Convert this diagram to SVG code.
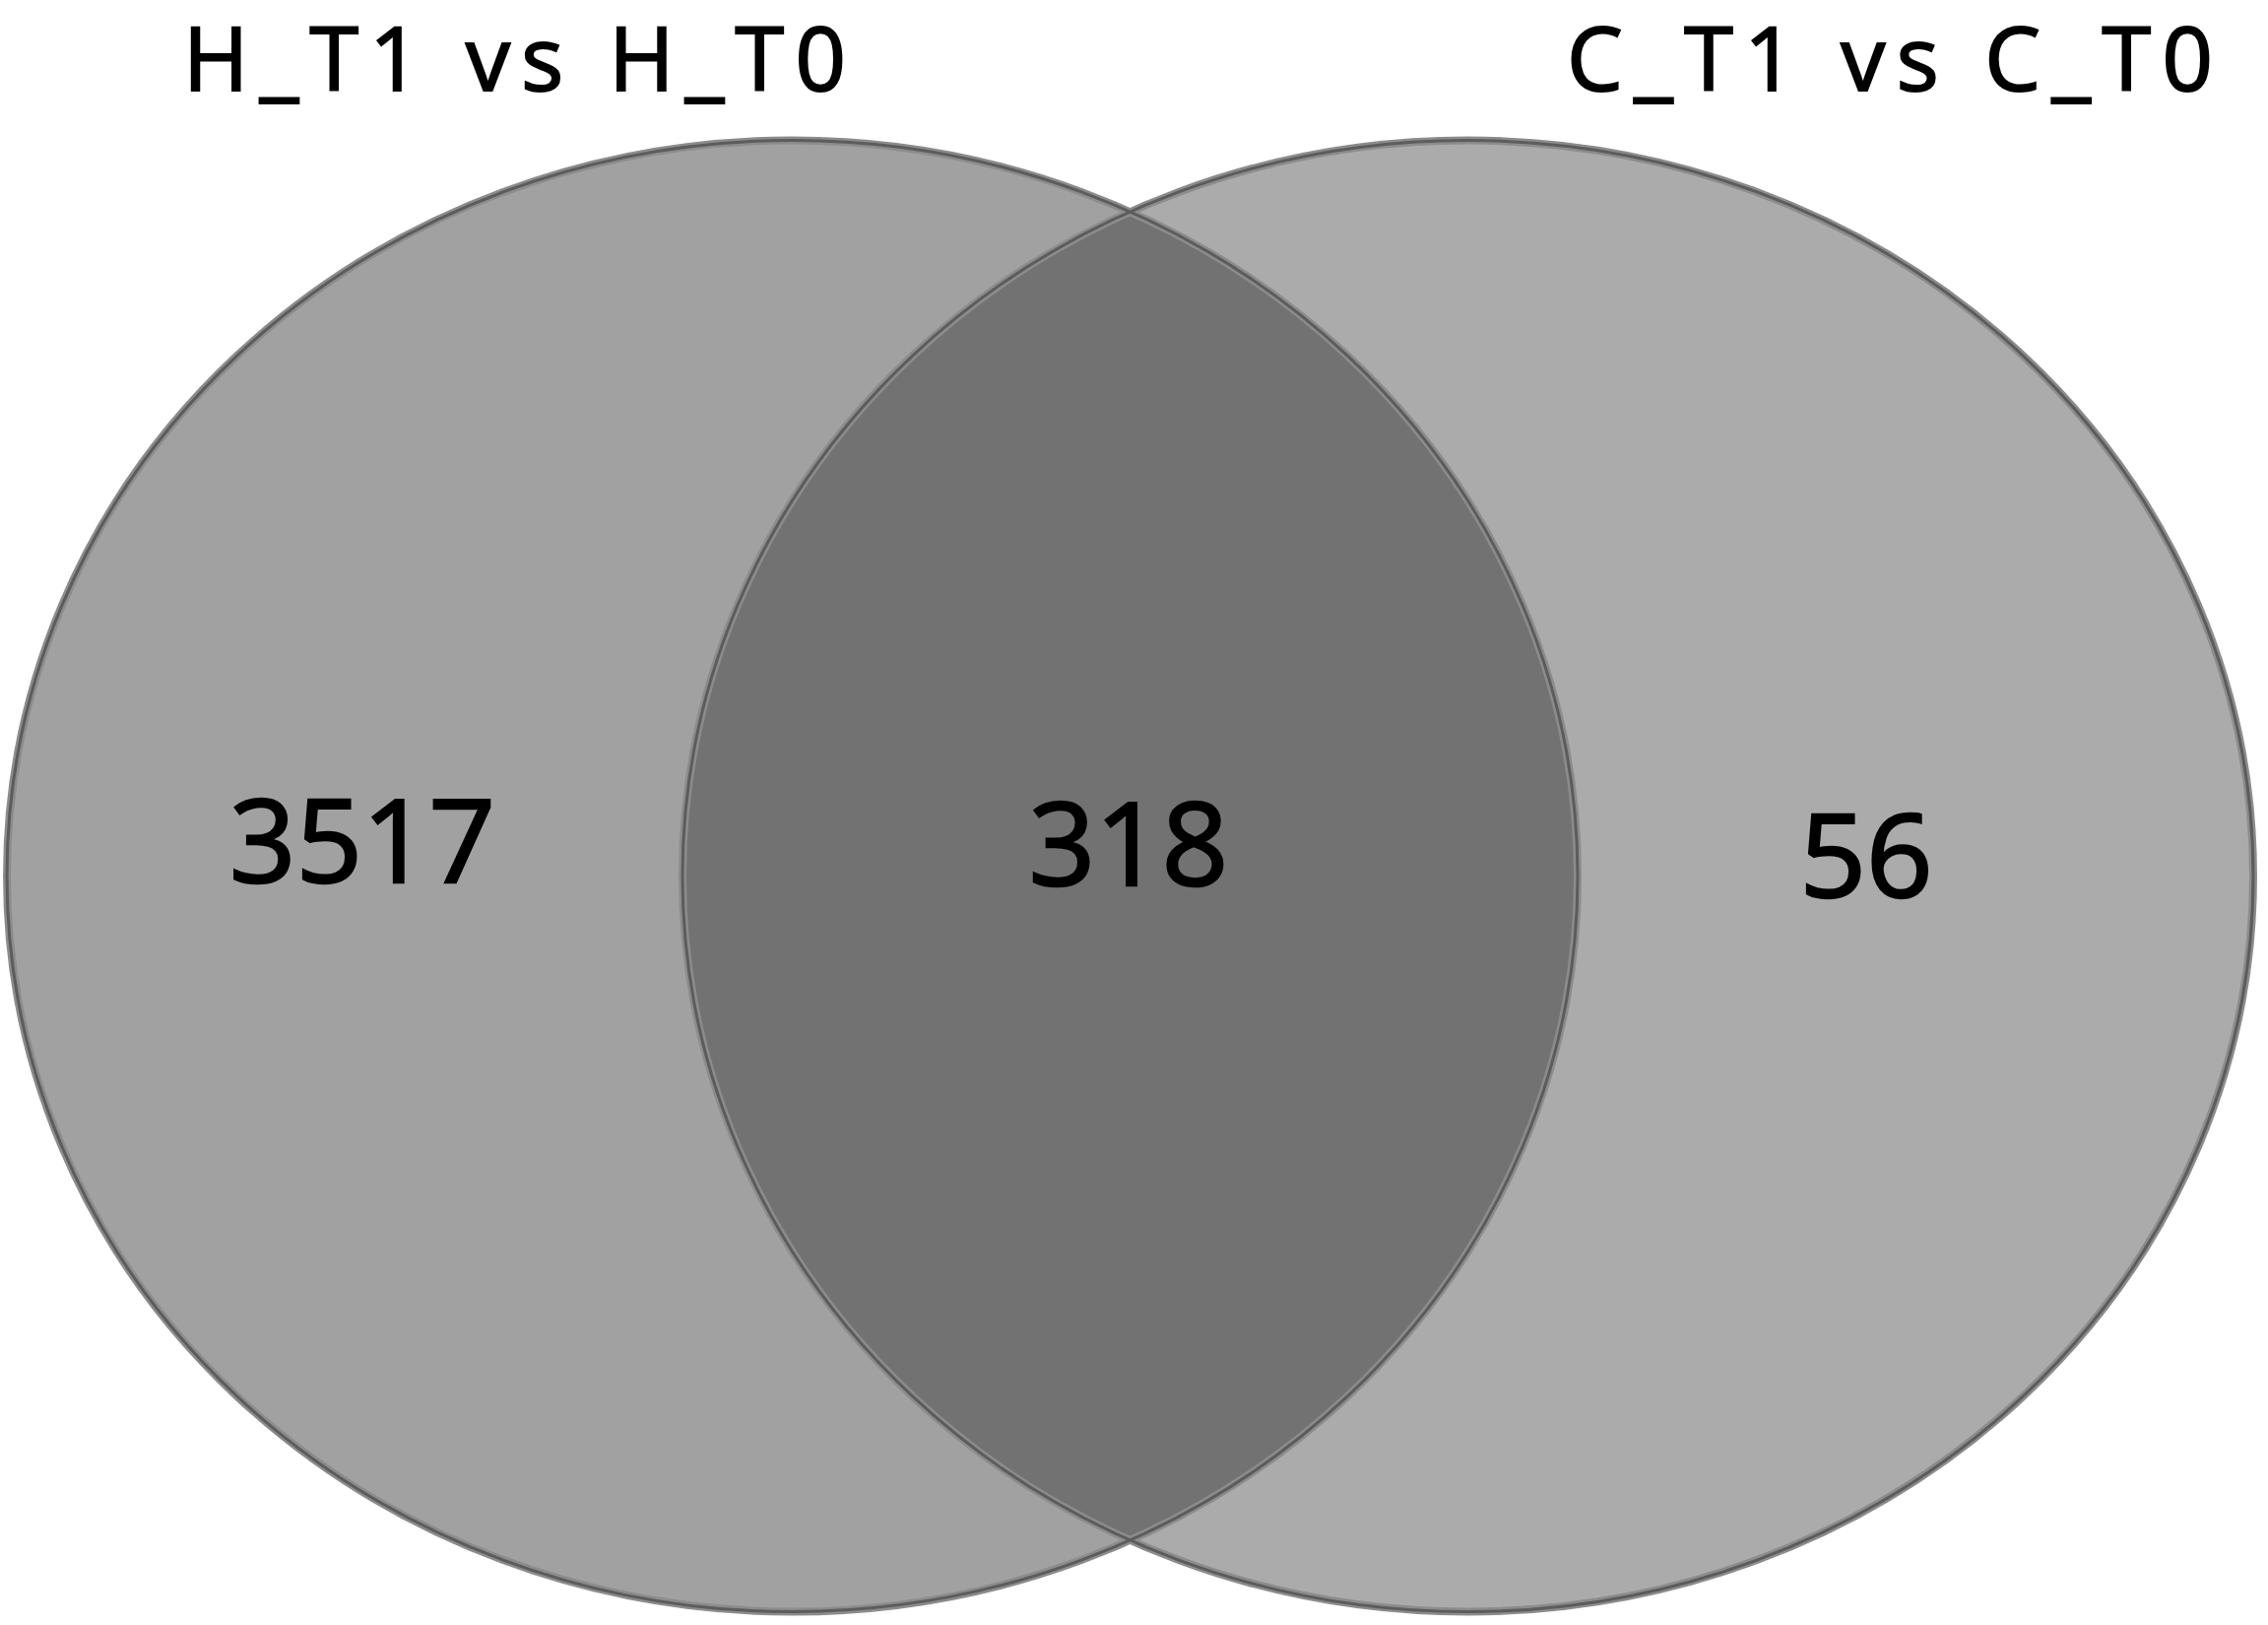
<svg xmlns="http://www.w3.org/2000/svg" width="2303" height="1650" viewBox="0 0 2303 1650">
<style>
.title{font-family:"Open Sans","Liberation Sans",sans-serif;font-size:90px;fill:#000;stroke:#000;stroke-width:2}
.num{font-family:"Open Sans","Liberation Sans",sans-serif;font-size:118px;fill:#000;stroke:#000;stroke-width:2.5;text-anchor:middle}
.halo{fill:none;stroke:#8c8c8c;stroke-width:8}
.line{fill:none;stroke:#5c5c5c;stroke-width:3}
</style>
<defs>
<clipPath id="clipL"><ellipse cx="804.5" cy="889.5" rx="797.5" ry="747"/></clipPath>
</defs>
<rect width="2303" height="1650" fill="#fff"/>
<g id="setH">
<ellipse cx="804.5" cy="889.5" rx="797.5" ry="747" fill="#a1a1a1"/>
</g>
<g id="setC">
<ellipse cx="1490.5" cy="889.5" rx="797.5" ry="747" fill="#ababab"/>
</g>
<g id="overlap">
<ellipse cx="1490.5" cy="889.5" rx="797.5" ry="747" fill="#727272" clip-path="url(#clipL)"/>
</g>
<g id="outlines">
<ellipse class="halo" cx="804.5" cy="889.5" rx="797.5" ry="747"/>
<ellipse class="halo" cx="1490.5" cy="889.5" rx="797.5" ry="747"/>
<ellipse class="line" cx="804.5" cy="889.5" rx="797.5" ry="747"/>
<ellipse class="line" cx="1490.5" cy="889.5" rx="797.5" ry="747"/>
</g>
<g id="labels">
<text class="title" x="186" y="92" textLength="673" lengthAdjust="spacing">H_T1 vs H_T0</text>
<text class="title" x="1591" y="92" textLength="656" lengthAdjust="spacing">C_T1 vs C_T0</text>
<text class="num" x="368" y="896">3517</text>
<text class="num" x="1146" y="899">318</text>
<text class="num" x="1895" y="911">56</text>
</g>
</svg>
